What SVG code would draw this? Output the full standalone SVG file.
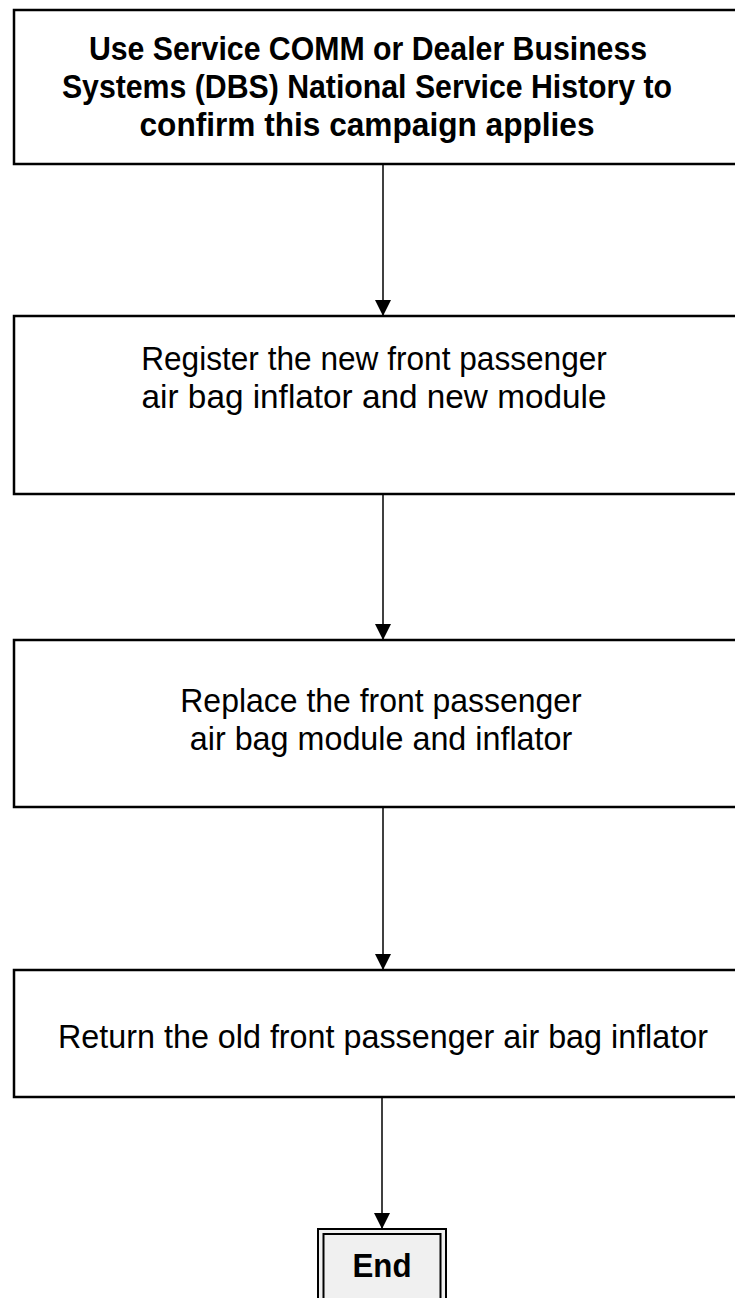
<svg xmlns="http://www.w3.org/2000/svg" width="735" height="1298" viewBox="0 0 735 1298">
<style>
.box{fill:#fff;stroke:#000;stroke-width:2.5}
.t{font-family:"Liberation Sans",Arial,Helvetica,sans-serif;font-size:34px;fill:#000;text-anchor:middle}
.b{font-weight:bold}
.c{stroke:#000;stroke-width:1.5;fill:none}
</style>
<defs>
<marker id="ah" viewBox="0 0 16 16" refX="16" refY="8" markerWidth="16" markerHeight="16" markerUnits="userSpaceOnUse" orient="auto">
<path d="M0,0 L16,8 L0,16 Z" fill="#000"/>
</marker>
</defs>
<rect width="735" height="1298" fill="#fff"/>
<g id="connectors">
<line class="c" x1="383" y1="164" x2="383" y2="316" marker-end="url(#ah)"/>
<line class="c" x1="383" y1="494" x2="383" y2="640" marker-end="url(#ah)"/>
<line class="c" x1="383" y1="807" x2="383" y2="970" marker-end="url(#ah)"/>
<line class="c" x1="382" y1="1097" x2="382" y2="1229" marker-end="url(#ah)"/>
</g>
<g id="n1">
<rect class="box" x="14" y="10" width="740" height="154"/>
<text class="t b" transform="translate(368 60) scale(0.89 1)">Use Service COMM or Dealer Business</text>
<text class="t b" transform="translate(367 98) scale(0.89 1)">Systems (DBS) National Service History to</text>
<text class="t b" transform="translate(367 136) scale(0.93 1)">confirm this campaign applies</text>
</g>
<g id="n2">
<rect class="box" x="14" y="316" width="740" height="178"/>
<text class="t" transform="translate(374 370) scale(0.93 1)">Register the new front passenger</text>
<text class="t" transform="translate(374 408) scale(0.98 1)">air bag inflator and new module</text>
</g>
<g id="n3">
<rect class="box" x="14" y="640" width="740" height="167"/>
<text class="t" transform="translate(381 712) scale(0.94 1)">Replace the front passenger</text>
<text class="t" transform="translate(381 750) scale(0.95 1)">air bag module and inflator</text>
</g>
<g id="n4">
<rect class="box" x="14" y="970" width="740" height="127"/>
<text class="t" transform="translate(383 1048) scale(0.95 1)">Return the old front passenger air bag inflator</text>
</g>
<g id="end">
<rect x="318" y="1229" width="128" height="80" fill="#f0f0f0" stroke="#000" stroke-width="2"/>
<rect x="323.5" y="1234" width="117" height="80" fill="#f0f0f0" stroke="#000" stroke-width="2"/>
<text class="t b" transform="translate(382 1277) scale(0.92 1)">End</text>
</g>
</svg>
